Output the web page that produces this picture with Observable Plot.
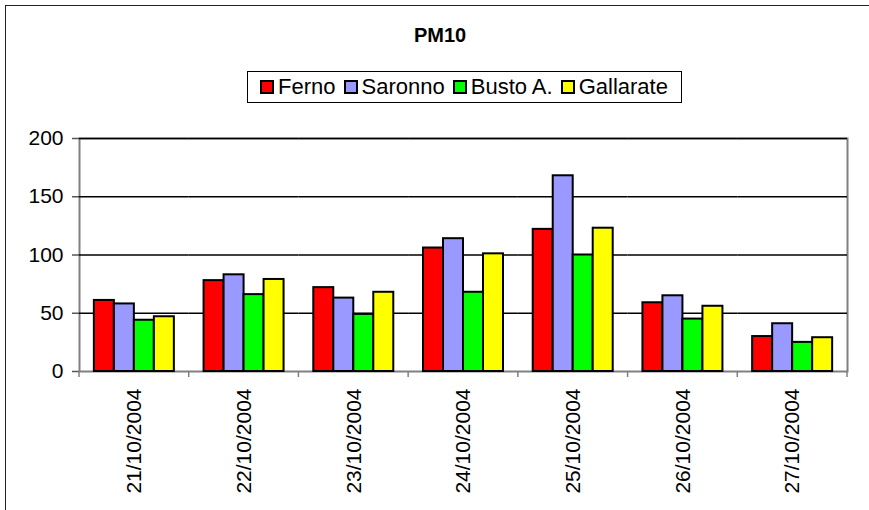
<!DOCTYPE html>
<html>
<head>
<meta charset="utf-8">
<script src="https://cdn.jsdelivr.net/npm/d3@7"></script>
<script src="https://cdn.jsdelivr.net/npm/@observablehq/plot@0.6"></script>
<style>
  html, body { margin: 0; padding: 0; background: #fff; }
  body { width: 869px; height: 510px; overflow: hidden; position: relative; font-family: "Liberation Sans", Arial, sans-serif; }
  #outer { position: absolute; left: 5px; top: 5px; width: 1000px; height: 1000px; border: 1.5px solid #222; pointer-events: none; }
  #header { position: relative; height: 115px; }
  #title { position: absolute; left: 0; top: 25px; width: 880px; text-align: center; font: bold 20px/20px "Liberation Sans", Arial, sans-serif; color: #000; }
  #legendbox { position: absolute; left: 247px; top: 71px; width: 435px; height: 32px; box-sizing: border-box; border: 1px solid #000; display: flex; align-items: center; justify-content: center; background: #fff; }
  #legendbox > div { margin: 0 !important; min-height: 0 !important; font: 22px "Liberation Sans", Arial, sans-serif !important; color: #000; }
  #legendbox span { margin-right: 9px !important; }
  #legendbox span:last-child { margin-right: 0 !important; }
  #legendbox svg { margin-right: 5px !important; overflow: visible; }
  #legendbox svg rect { stroke: #000; stroke-width: 2px; }
  #chart { position: relative; }
</style>
</head>
<body>
<div id="outer"></div>
<div id="header">
  <div id="title"></div>
  <div id="legendbox"></div>
</div>
<div id="chart"></div>
<script>
const titleText = "PM10";
const dates = ["21/10/2004", "22/10/2004", "23/10/2004", "24/10/2004", "25/10/2004", "26/10/2004", "27/10/2004"];
const seriesNames = ["Ferno", "Saronno", "Busto A.", "Gallarate"];
const seriesColors = ["#FF0000", "#9999FF", "#00FF00", "#FFFF00"];
const ferno = [61, 78, 72, 106, 122, 59, 30];
const saronno = [58, 83, 63, 114, 168, 65, 41];
const busto = [44, 66, 49, 68, 100, 45, 25];
const gallarate = [47, 79, 68, 101, 123, 56, 29];
const yTicks = [0, 50, 100, 150, 200];

const seriesValues = [ferno, saronno, busto, gallarate];
const rows = [];
dates.forEach((d, i) => {
  seriesNames.forEach((s, j) => rows.push({date: d, series: s, value: seriesValues[j][i]}));
});

document.getElementById("title").textContent = titleText;

const colorOpts = {type: "ordinal", domain: seriesNames, range: seriesColors};
document.getElementById("legendbox").append(
  Plot.legend({color: colorOpts, swatchSize: 12, className: "lg"})
);

const chart = Plot.plot({
  width: 869,
  height: 395,
  marginLeft: 79,
  marginRight: 22,
  marginTop: 23,
  marginBottom: 139,
  style: {fontSize: "21px", fontFamily: "Liberation Sans, Arial, sans-serif", color: "#000", background: "transparent", overflow: "visible"},
  fx: {domain: dates, padding: 0, round: false, axis: null},
  x: {domain: seriesNames, paddingInner: 0, paddingOuter: 0.743, round: false, axis: null},
  y: {domain: [0, 200], axis: null},
  color: colorOpts,
  marks: [
    Plot.frame({facet: "super", stroke: "#808080", strokeWidth: 2}),
    Plot.ruleY(yTicks.filter(v => v > 0), {stroke: "#000", strokeWidth: 1.5}),
    Plot.axisY(yTicks, {tickSize: 7, tickPadding: 9, label: null, color: "#000", stroke: "#555", strokeWidth: 1.5}),
    Plot.axisFx({anchor: "bottom", tickRotate: -90, tickSize: 0, tickPadding: 17, label: null, color: "#000"}),
    Plot.barY(rows, {fx: "date", x: "series", y: "value", fill: "series", stroke: "#000", strokeWidth: 2})
  ]
});

// boundary ticks between date groups, from the library's fx and y scales
const fxS = chart.scale("fx");
const yS = chart.scale("y");
const edges = fxS.domain.map(d => fxS.apply(d));
edges.push(fxS.apply(fxS.domain[fxS.domain.length - 1]) + fxS.step);
const y0 = yS.apply(0);
d3.select(chart).append("g")
  .attr("stroke", "#808080").attr("stroke-width", 1.5)
  .selectAll("line").data(edges).join("line")
  .attr("x1", d => d).attr("x2", d => d)
  .attr("y1", y0).attr("y2", y0 + 6);

document.getElementById("chart").append(chart);
</script>
</body>
</html>
